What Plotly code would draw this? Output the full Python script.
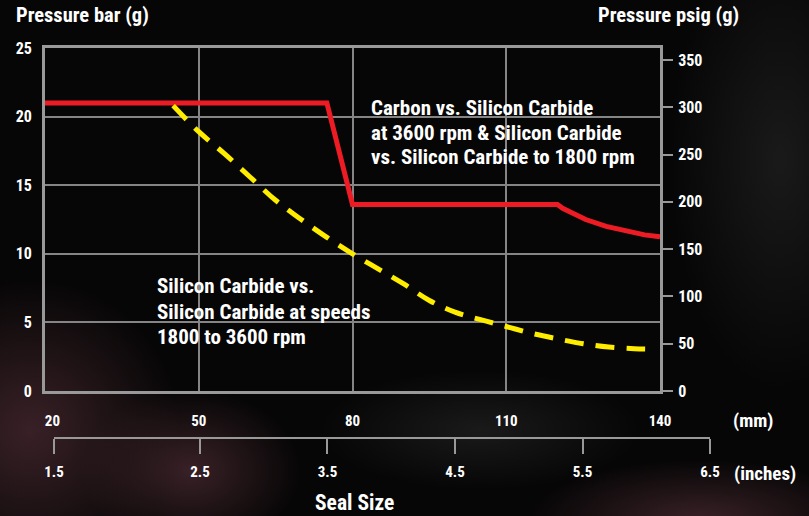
import base64
import plotly.graph_objects as go

# ---------------- data ----------------
mm_ticks = [20, 50, 80, 110, 140]
mm_labels = ["20", "50", "80", "110", "140"]
inch_labels = ["1.5", "2.5", "3.5", "4.5", "5.5", "6.5"]
inch_vals = [1.355, 2.5, 3.5, 4.5, 5.5, 6.5]
bar_ticks = [0, 5, 10, 15, 20, 25]
psig_ticks = [0, 50, 100, 150, 200, 250, 300, 350]

carbon_mm = [20, 75, 80, 120, 121, 123, 125.5, 129.5, 133.5, 137, 140]
carbon_bar = [21.0, 21.0, 13.6, 13.6, 13.32, 12.95, 12.5, 12.0, 11.62, 11.38, 11.25]

sic_mm = [45, 50, 55, 60, 65, 70, 75, 80, 85, 90, 95, 100, 105, 110, 115, 120, 125, 130, 135, 138]
sic_bar = [20.8, 18.9, 17.3, 15.6, 13.9, 12.5, 11.2, 10.0, 8.9, 7.8, 6.6, 5.75, 5.2, 4.7, 4.2,
           3.8, 3.45, 3.2, 3.08, 3.05]

BAR_TO_PSI = 14.5038

# ---------------- layout geometry ----------------
W, H = 809, 516
ML, MR, MT, MB = 45, 89, 48, 0
PW, PH = W - ML - MR, H - MT - MB


def xp(px):
    return (px - ML) / PW


def yp(py):
    return (H - MB - py) / PH


FONT = "Roboto Condensed, Liberation Sans Narrow, DejaVu Sans Condensed, sans-serif"
GRID = "#858585"
FRAME = "#999999"
BG = "#070606"
PLOT_BG = "#050505"

# soft smoky background (decorative)
svg = f"""<svg xmlns="http://www.w3.org/2000/svg" width="{W}" height="{H}">
<defs>
<radialGradient id="r"><stop offset="0" stop-color="#3b2228" stop-opacity="0.95"/>
<stop offset="1" stop-color="#3b2228" stop-opacity="0"/></radialGradient>
<radialGradient id="g"><stop offset="0" stop-color="#1c1c1c" stop-opacity="0.9"/>
<stop offset="1" stop-color="#1c1c1c" stop-opacity="0"/></radialGradient>
</defs>
<rect width="{W}" height="{H}" fill="{BG}"/>
<ellipse cx="30" cy="430" rx="150" ry="150" fill="url(#r)"/>
<ellipse cx="190" cy="470" rx="110" ry="80" fill="url(#r)"/>
<ellipse cx="700" cy="520" rx="170" ry="60" fill="url(#r)"/>
<ellipse cx="780" cy="160" rx="110" ry="230" fill="url(#g)"/>
<ellipse cx="480" cy="430" rx="160" ry="60" fill="url(#g)"/>
</svg>"""
bg_src = "data:image/svg+xml;base64," + base64.b64encode(svg.encode()).decode()

fig = go.Figure()

fig.add_trace(go.Scatter(
    x=carbon_mm, y=carbon_bar, mode="lines",
    line=dict(color="#ED1C24", width=5), showlegend=False, hoverinfo="skip"))

fig.add_trace(go.Scatter(
    x=sic_mm, y=sic_bar, mode="lines", line_shape="spline",
    line=dict(color="#FFED00", width=5, dash="19px,12px"), showlegend=False, hoverinfo="skip"))

# invisible traces to activate secondary axes
fig.add_trace(go.Scatter(x=[None], y=[None], yaxis="y2", showlegend=False, hoverinfo="skip"))
fig.add_trace(go.Scatter(x=[inch_vals[0]], y=[None], xaxis="x2", yaxis="y3",
                         showlegend=False, hoverinfo="skip"))

ytickfont = dict(family=FONT, size=16, color="white", weight="bold")
xtickfont = dict(family=FONT, size=15, color="white", weight="bold")

# the first mm label sits slightly right of the frame corner in the original
mm_text = ["\u2007\u2007" + mm_labels[0]] + mm_labels[1:]

fig.update_layout(
    width=W, height=H, autosize=False,
    margin=dict(l=ML, r=MR, t=MT, b=MB, pad=0, autoexpand=False),
    paper_bgcolor=BG,
    plot_bgcolor=PLOT_BG,
    font=dict(family=FONT, color="white"),
    images=[dict(source=bg_src, xref="paper", yref="paper", x=xp(0), y=yp(0),
                 sizex=W / PW, sizey=H / PH, xanchor="left", yanchor="top",
                 sizing="stretch", layer="below")],
    xaxis=dict(
        domain=[0, xp(660)], range=[20, 140], tickvals=mm_ticks, ticktext=mm_text,
        showgrid=True, gridcolor=GRID, gridwidth=1.5, automargin=False,
        showline=True, linecolor=FRAME, linewidth=3, mirror=True,
        ticks="", ticklabelstandoff=14, tickfont=xtickfont, zeroline=False,
    ),
    yaxis=dict(
        domain=[yp(391), 1], range=[0, 25], tickvals=bar_ticks,
        showgrid=True, gridcolor=GRID, gridwidth=1.5, automargin=False,
        showline=True, linecolor=FRAME, linewidth=3, mirror=True,
        ticks="", ticklabelstandoff=7, tickfont=ytickfont, zeroline=False,
    ),
    yaxis2=dict(
        overlaying="y", side="right", anchor="x", automargin=False,
        range=[0, 25 * BAR_TO_PSI], tickvals=psig_ticks,
        showgrid=False, showline=False, zeroline=False,
        ticks="outside", ticklen=12, tickwidth=1.5, tickcolor=FRAME,
        ticklabelstandoff=2, tickfont=ytickfont,
    ),
    xaxis2=dict(
        domain=[xp(54), xp(710)], anchor="y3", side="bottom", automargin=False,
        range=[inch_vals[0], inch_vals[-1]], tickvals=inch_vals, ticktext=inch_labels,
        showgrid=False, zeroline=False,
        showline=True, linecolor=FRAME, linewidth=1.5,
        ticks="outside", ticklen=15, tickwidth=1.5, tickcolor=FRAME,
        ticklabelstandoff=5, tickfont=xtickfont,
    ),
    yaxis3=dict(
        domain=[yp(437), yp(436)], anchor="x2", visible=False, range=[0, 1],
        automargin=False,
    ),
)

ann_common = dict(xref="paper", yref="paper", showarrow=False)
annotations = [
    dict(text="<b>Pressure bar (g)</b>", x=xp(14), y=yp(15), xanchor="left", yanchor="middle",
         font=dict(family=FONT, size=20.5, color="white")),
    dict(text="<b>Pressure psig (g)</b>", x=xp(596), y=yp(15), xanchor="left", yanchor="middle",
         font=dict(family=FONT, size=20.5, color="white")),
    dict(text="<b>(mm)</b>", x=xp(731), y=yp(420), xanchor="left", yanchor="middle",
         font=dict(family=FONT, size=19, color="white")),
    dict(text="<b>(inches)</b>", x=xp(732), y=yp(473), xanchor="left", yanchor="middle",
         font=dict(family=FONT, size=19, color="white")),
    dict(text="<b>Seal Size</b>", x=xp(354), y=yp(502), xanchor="center", yanchor="middle",
         font=dict(family=FONT, size=21.5, color="white")),
]
label1 = ["Carbon vs. Silicon Carbide", "at 3600 rpm &amp; Silicon Carbide",
          "vs. Silicon Carbide to 1800 rpm"]
label1_y = [108, 133, 157]
for t, yy in zip(label1, label1_y):
    annotations.append(dict(text=f"<b>{t}</b>", x=xp(369), y=yp(yy), xanchor="left",
                            yanchor="middle", font=dict(family=FONT, size=21, color="white")))
label2 = ["Silicon Carbide vs.", "Silicon Carbide at speeds", "1800 to 3600 rpm"]
label2_y = [286, 312, 337]
for t, yy in zip(label2, label2_y):
    annotations.append(dict(text=f"<b>{t}</b>", x=xp(155), y=yp(yy), xanchor="left",
                            yanchor="middle", font=dict(family=FONT, size=21, color="white")))
fig.update_layout(annotations=[dict(**ann_common, **a) for a in annotations])

post = (
    "var h=document.documentElement.style,b=document.body.style;"
    "h.margin=b.margin='0';h.padding=b.padding='0';h.overflow=b.overflow='hidden';"
    "h.background=b.background='%s';" % BG
)

fig.write_html("out.html", config={"displayModeBar": False}, post_script=post)
